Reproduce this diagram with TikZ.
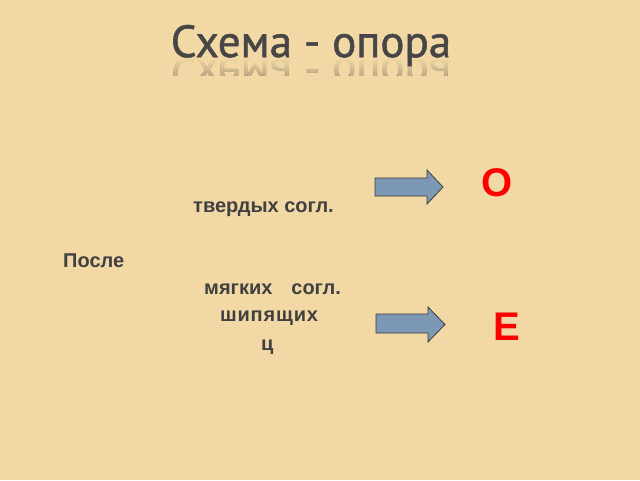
\documentclass[tikz,border=0pt]{standalone}
\usepackage{fontspec}
\setmainfont{Liberation Sans}
\newfontfamily\titlefont[FakeBold=1.2]{PT Sans}
\usetikzlibrary{fadings}
\definecolor{bg}{RGB}{242,216,164}
\definecolor{txt}{RGB}{64,64,64}
\definecolor{arrowfill}{RGB}{125,152,180}
\definecolor{arrowline}{RGB}{60,60,60}
\definecolor{titlec}{RGB}{70,70,70}
\tikzset{
  lbl/.style={font=\bfseries\fontsize{20}{20}\selectfont, text=txt, inner sep=0pt, anchor=base west},
  letter/.style={font=\bfseries\fontsize{40}{40}\selectfont, text=red, inner sep=0pt, anchor=base west},
  blockarrow/.style={fill=arrowfill, draw=arrowline, line width=0.8pt, line join=miter},
  titletext/.style={font=\titlefont\fontsize{45}{45}\selectfont, text=titlec, inner sep=0pt, anchor=base},
}
\begin{document}
\begin{tikzpicture}[x=1pt,y=-1pt]
\fill[bg] (0,0) rectangle (640,480);
\useasboundingbox (0,0) rectangle (640,480);
% title and its reflection
\node[titletext, yscale=-1, opacity=0.3] (titlerefl) at (311,58) {Схема - опора};
\fill[bg, path fading=south] (150,58) rectangle (480,76);
\fill[bg] (150,76) rectangle (480,100);
\node[titletext] (title) at (311,57) {Схема - опора};
% labels
\node[lbl] (tverd) at (193,212) {твердых согл.};
\node[lbl] (posle) at (63,267) {После};
\node[lbl] (myagk) at (204,294) {мягких\hspace{0.95em}согл.};
\node[lbl, font=\bfseries\fontsize{20}{20}\selectfont\addfontfeature{LetterSpace=4}] (ship) at (220,321) {шипящих};
\node[lbl] (ts) at (261,350) {ц};
% arrows
\draw[blockarrow] (375,178) -- (427,178) -- (427,170) -- (443,187) -- (427,204) -- (427,196) -- (375,196) -- cycle;
\draw[blockarrow] (376,314) -- (428,314) -- (428,307) -- (445,324.5) -- (428,342) -- (428,333) -- (376,333) -- cycle;
% results
\node[letter] (o) at (481,196) {О};
\node[letter] (e) at (493,340) {Е};
\end{tikzpicture}
\end{document}
